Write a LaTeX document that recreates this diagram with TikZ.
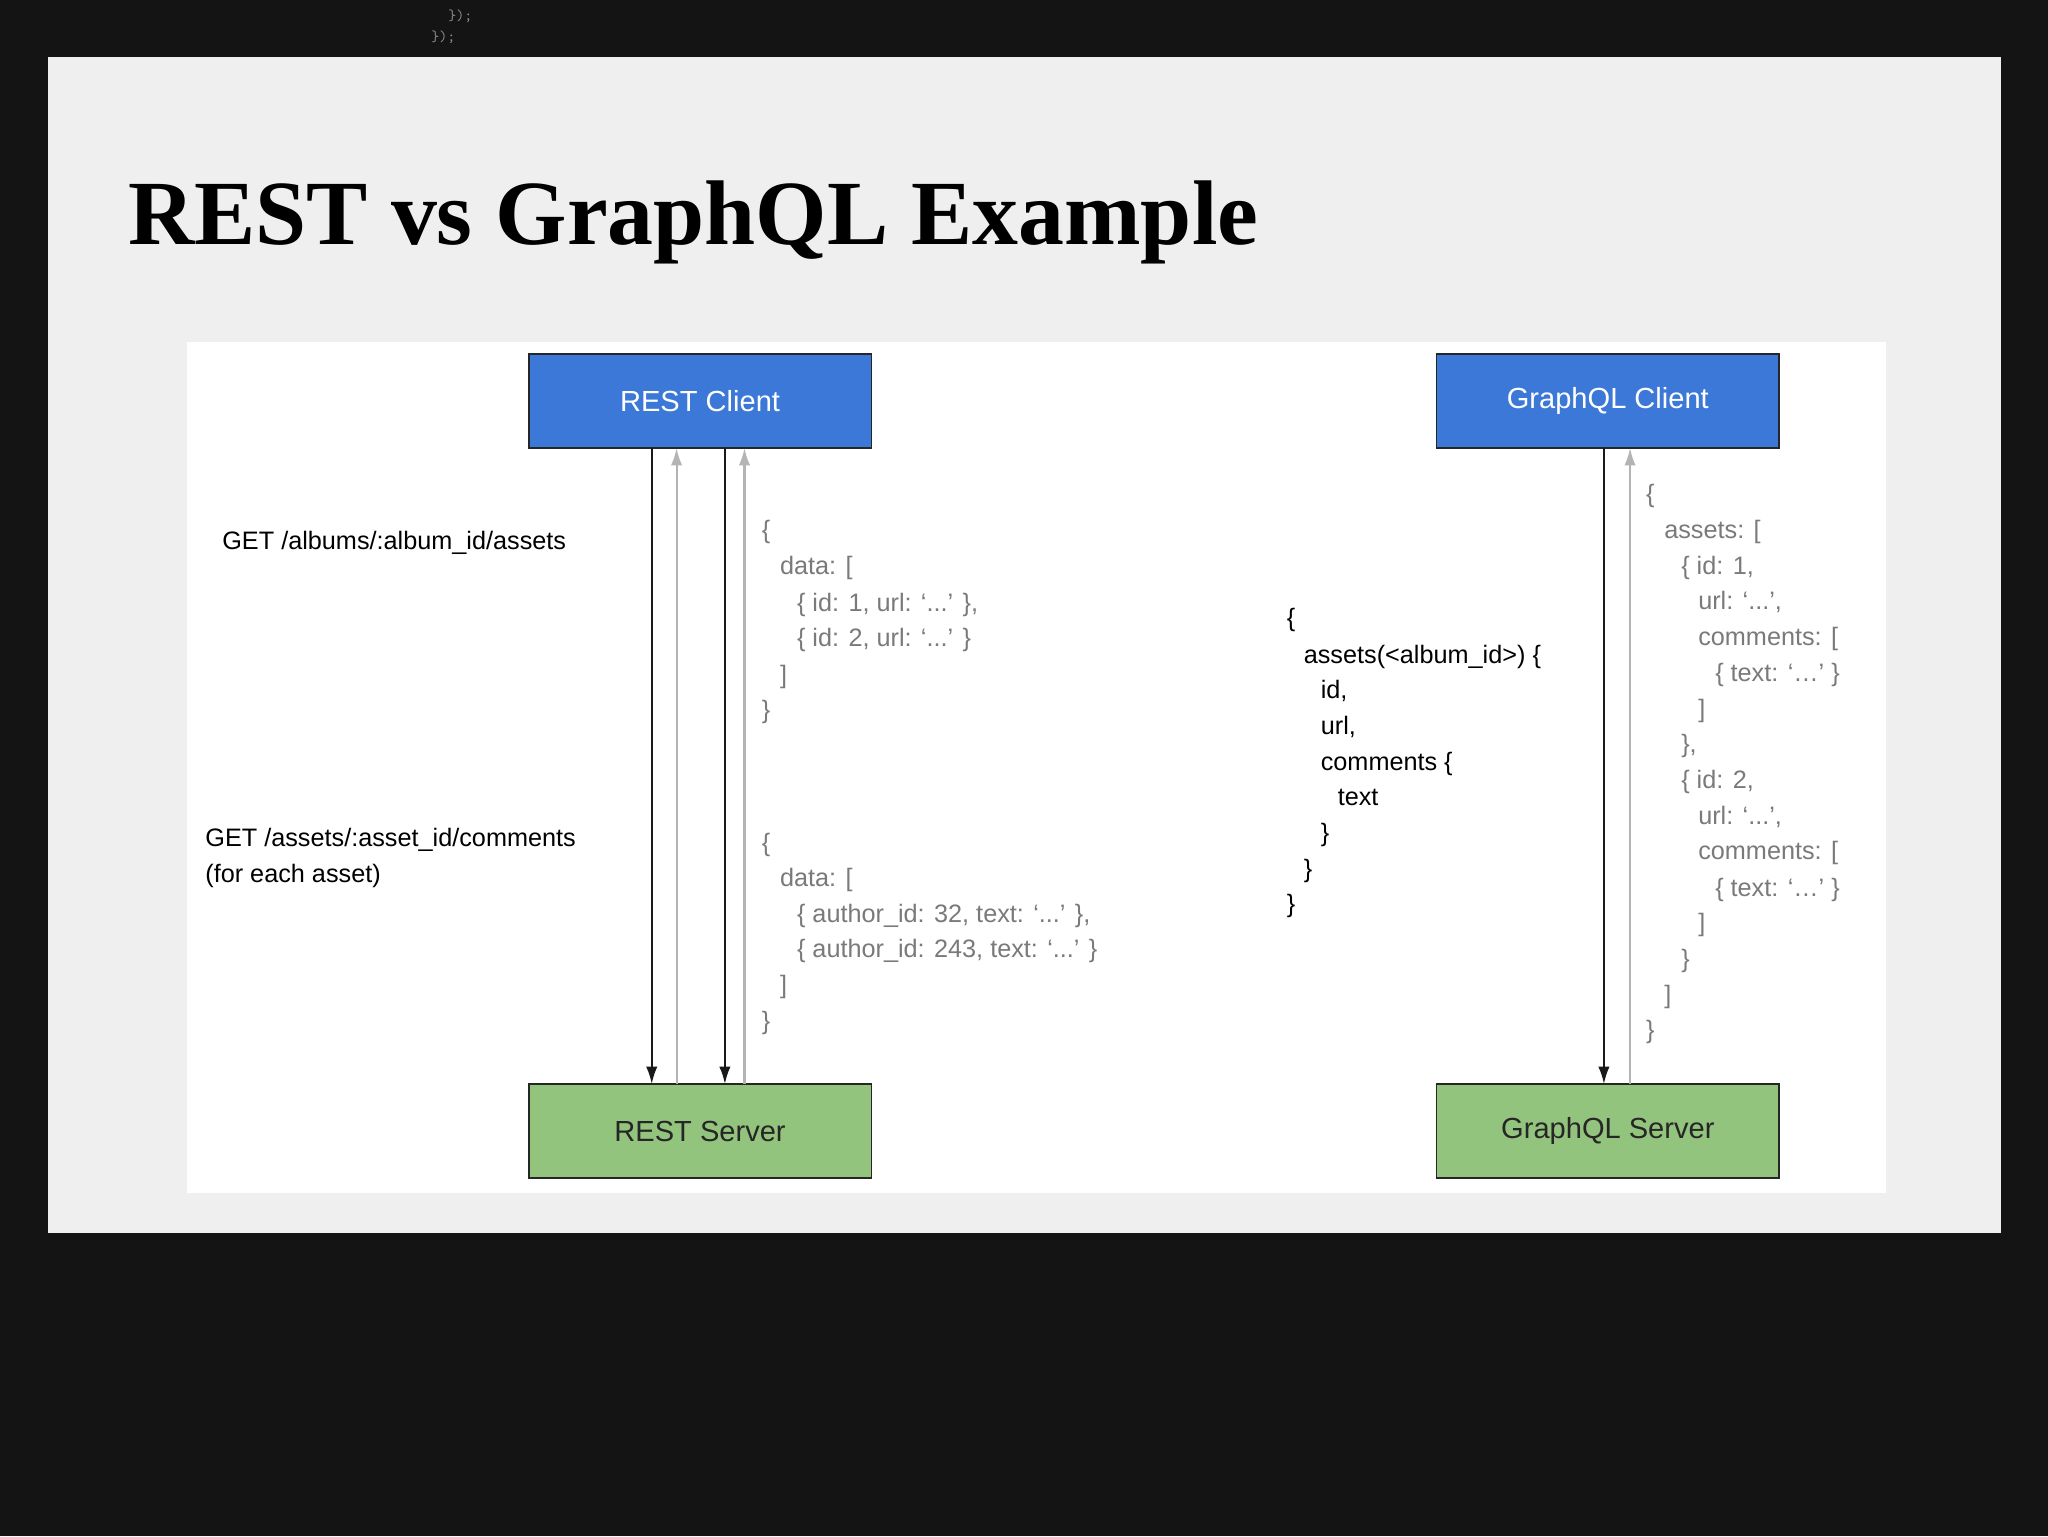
\documentclass[tikz,border=0pt]{standalone}
\usepackage{fontspec}
\setmainfont{Liberation Sans}
\newfontfamily\titlefont{Liberation Serif}
\usetikzlibrary{calc,arrows.meta}
\definecolor{bgdark}{HTML}{141414}
\definecolor{slide}{HTML}{EFEFEF}
\definecolor{cblue}{HTML}{3C78D8}
\definecolor{cgreen}{HTML}{93C47D}
\definecolor{resp}{HTML}{7A7A7A}
\definecolor{arrgray}{HTML}{B4B4B4}
\begin{document}
\begin{tikzpicture}[x=0.3mm,y=-0.3mm,
  box/.style={draw=black!85,line width=0.9pt,minimum width=262*0.3mm,minimum height=72*0.3mm,font=\fontsize{19}{22}\selectfont,inner sep=0pt},
  clientbox/.style={box,fill=cblue,text=white},
  serverbox/.style={box,fill=cgreen,text=black!85},
  req/.style={-{Latex[length=4mm,width=2.6mm]},line width=1.4pt,black!90},
  res/.style={-{Latex[length=4mm,width=2.6mm]},line width=1.4pt,arrgray},
  txt/.style={anchor=base west,inner sep=0pt,font=\fontsize{16.5}{20}\selectfont},
  gtxt/.style={txt,text=resp}]
\fill[bgdark] (0,0) rectangle (1568,1176);
\useasboundingbox (0,0) rectangle (1568,1176);
\node[anchor=base west,inner sep=0pt,text=black!45,font=\ttfamily\fontsize{10}{12}\selectfont] (c1) at (343,16) {\});};
\node[anchor=base west,inner sep=0pt,text=black!45,font=\ttfamily\fontsize{10}{12}\selectfont] (c2) at (330,32) {\});};
\fill[slide] (37,44) rectangle (1532,944);
\node[anchor=base west,inner sep=0pt,font=\titlefont\bfseries\fontsize{60}{70}\selectfont] (title) at (98,187) {REST vs GraphQL Example};
\fill[white] (143,262) rectangle (1444,913);
\node[clientbox] (rc) at (536,307) {REST Client};
\node[serverbox] (rs) at (536,866) {REST Server};
\node[clientbox] (gc) at (1231,307) {GraphQL Client};
\node[serverbox] (gs) at (1231,866) {GraphQL Server};
% arrows
\foreach \n/\x in {a/499,b/518,c/555,d/570}{
  \coordinate (rt\n) at (\x,343); \coordinate (rb\n) at (\x,830);}
\draw[req] (rta) -- (rba);
\draw[res] (rbb) -- (rtb);
\draw[req] (rtc) -- (rbc);
\draw[res] (rbd) -- (rtd);
\coordinate (gta) at (1228,343); \coordinate (gba) at (1228,830);
\coordinate (gtb) at (1248,343); \coordinate (gbb) at (1248,830);
\draw[req] (gta) -- (gba);
\draw[res] (gbb) -- (gtb);
% request labels
\node[txt] (q1) at (170,421) {GET /albums/:album\_id/assets};
\node[txt] (q2) at (157,648) {GET /assets/:asset\_id/comments};
\node[txt] (q3) at (157,676) {(for each asset)};
% json responses
\foreach \i/\x/\y/\t in {1/583/404/\{,2/597/432/{data: [},3/610/460/{\{ id: 1, url: ‘...’ \},},4/610/487/{\{ id: 2, url: ‘...’ \}},5/597/515/],6/583/542/\},
 7/583/644/\{,8/597/671/{data: [},9/610/698/{\{ author\_id: 32, text: ‘...’ \},},10/610/725/{\{ author\_id: 243, text: ‘...’ \}},11/597/753/],12/583/780/\}}
  {\node[gtxt] (j\i) at (\x,\y+8) {\t};}
% graphql query
\foreach \i/\x/\y/\t in {1/985/472/\{,2/998/500/{assets(<album\_id>) \{},3/1011/527/{id,},4/1011/554/{url,},5/1011/582/{comments \{},6/1024/609/text,7/1011/636/\},8/998/664/\},9/985/691/\}}
  {\node[txt] (g\i) at (\x,\y+8) {\t};}
% graphql response
\foreach \i/\x/\y/\t in {1/1260/377/\{,2/1274/404/{assets: [},3/1287/432/{\{ id: 1,},4/1300/459/{url: ‘...’,},5/1300/486/{comments: [},6/1313/514/{\{ text: ‘…’ \}},7/1300/541/],8/1287/568/{\},},
 9/1287/596/{\{ id: 2,},10/1300/623/{url: ‘...’,},11/1300/650/{comments: [},12/1313/678/{\{ text: ‘…’ \}},13/1300/705/],14/1287/733/\},15/1274/760/],16/1260/787/\}}
  {\node[gtxt] (r\i) at (\x,\y+8) {\t};}
\end{tikzpicture}
\end{document}
